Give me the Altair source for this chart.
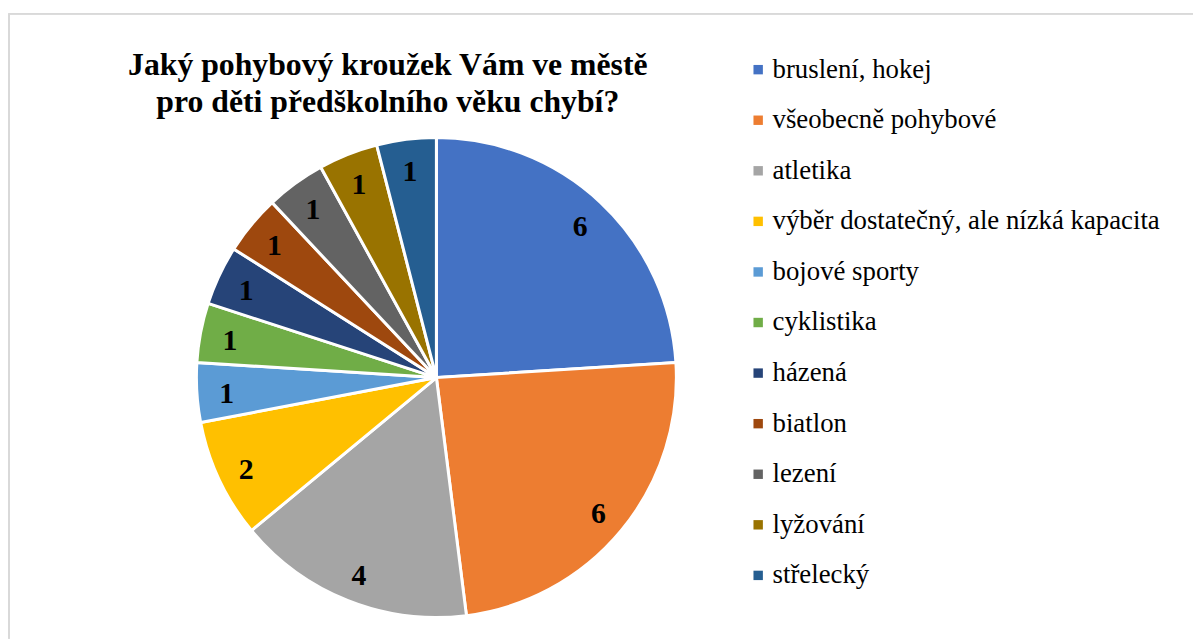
import altair as alt
import pandas as pd

categories = ["bruslení, hokej", "všeobecně pohybové", "atletika",
              "výběr dostatečný, ale nízká kapacita", "bojové sporty", "cyklistika",
              "házená", "biatlon", "lezení", "lyžování", "střelecký"]
values = [6, 6, 4, 2, 1, 1, 1, 1, 1, 1, 1]
colors = ["#4472C4", "#ED7D31", "#A5A5A5", "#FFC000", "#5B9BD5", "#70AD47",
          "#264478", "#9E480E", "#636363", "#997300", "#255E91"]
title_lines = ["Jaký pohybový kroužek Vám ve městě", "pro děti předškolního věku chybí?"]

df = pd.DataFrame({"cat": categories, "val": values, "ord": list(range(len(values)))})
tdf = pd.DataFrame({"line": title_lines, "i": [0, 1]})

FONT = "Liberation Serif"
CX, CY = 431, 367

base = alt.Chart(df).encode(
    theta=alt.Theta("val:Q", stack=True),
    order=alt.Order("ord:Q"),
)

arcs = base.mark_arc(outerRadius=242, stroke="white", strokeWidth=3).encode(
    x=alt.value(CX), y=alt.value(CY),
    color=alt.Color("cat:N", sort=categories,
                    scale=alt.Scale(domain=categories, range=colors),
                    legend=alt.Legend(title=None, orient="none", legendX=742, legendY=43,
                                      symbolType="square", symbolSize=90,
                                      symbolStrokeWidth=0,
                                      rowPadding=23, labelOffset=1, labelLimit=500)),
)

labels = base.mark_text(radius=212, font=FONT, fontSize=30, fontWeight="bold",
                        color="black", baseline="middle", align="center", dy=3).encode(
    x=alt.value(CX), y=alt.value(CY),
    text=alt.Text("val:Q"),
)

title = alt.Chart(tdf).mark_text(font=FONT, fontSize=32, fontWeight="bold", color="black",
                                 align="center", baseline="alphabetic").encode(
    x=alt.value(382),
    y=alt.Y("i:Q", axis=None, scale=alt.Scale(domain=[0, 1], range=[62, 99])),
    text="line:N",
)

frame_top = alt.Chart(df).mark_rule(color="#D9D9D9", strokeWidth=1.5).encode(
    x=alt.value(0), x2=alt.value(1194), y=alt.value(0))
frame_left = alt.Chart(df).mark_rule(color="#D9D9D9", strokeWidth=1.5).encode(
    x=alt.value(0), y=alt.value(0), y2=alt.value(630))

chart = alt.layer(frame_top, frame_left, arcs, labels, title).properties(
    width=1186, height=620,
    padding={"left": 0, "top": 2, "right": 0, "bottom": 0},
    background="white",
).resolve_scale(y="independent").configure_view(stroke=None).configure_legend(
    labelFont=FONT, labelFontSize=27, labelColor="#000000")

chart.save("out.html", embed_options={"renderer": "svg", "actions": False})
